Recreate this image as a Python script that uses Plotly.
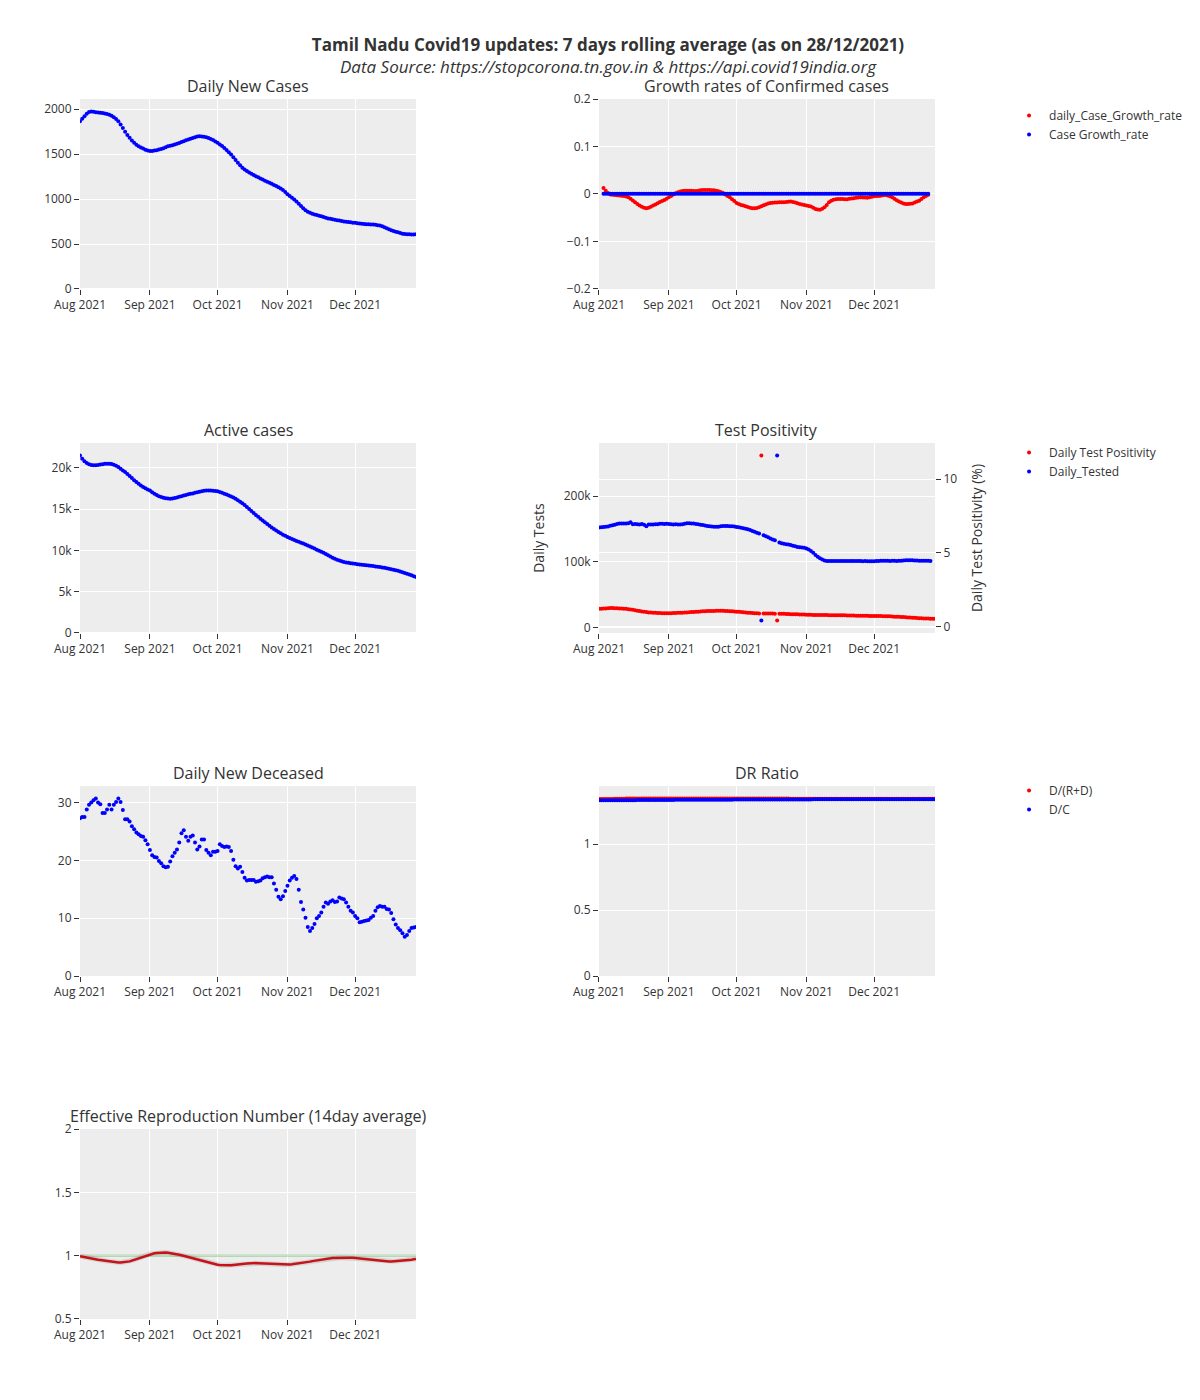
import pandas as pd
import plotly.graph_objects as go

# ---------------- data ----------------
dates = pd.date_range("2021-08-01", "2021-12-28", freq="D")
growth_dates = pd.date_range("2021-08-03", "2021-12-25", freq="D")

daily_new_cases = [
    1867, 1895, 1922, 1950, 1970, 1975, 1972, 1967, 1963, 1961, 1958, 1952, 1946, 1940, 1928, 1912,
    1892, 1866, 1830, 1790, 1750, 1714, 1682, 1652, 1627, 1606, 1588, 1574, 1562, 1550, 1541,
    1534, 1536, 1540, 1545, 1552, 1558, 1567, 1578, 1588, 1595, 1600, 1608, 1615, 1625, 1636,
    1645, 1655, 1664, 1672, 1680, 1689, 1697, 1700, 1698, 1694, 1688, 1680, 1670, 1657, 1642,
    1626, 1608, 1590, 1570, 1546, 1522, 1496, 1466, 1435, 1405, 1376, 1350, 1330, 1312, 1296,
    1282, 1268, 1255, 1242, 1230, 1218, 1205, 1193, 1181, 1170, 1158, 1146, 1133, 1118, 1100, 1078,
    1055, 1035, 1016, 996, 972, 948, 922, 897, 875, 859, 848, 838, 830, 822, 815,
    808, 800, 792, 785, 780, 775, 770, 766, 762, 757, 752, 748, 744, 741, 738,
    736, 732, 728, 725, 722, 720, 719, 718, 717, 714, 710, 705, 697, 686,
    675, 664, 654, 645, 637, 630, 622, 615, 611, 609, 608, 607, 607, 608,
]

daily_case_growth_rate = [
    0.0126, 0.007, 0.002, -0.001, -0.0015, -0.002, -0.0025, -0.003, -0.0035, -0.0045, -0.0055,
    -0.007, -0.010, -0.0135, -0.0175, -0.021, -0.0245, -0.027, -0.029, -0.030, -0.029, -0.027,
    -0.0245, -0.022, -0.0196, -0.017, -0.0148, -0.0126, -0.0098, -0.007, -0.004, -0.001, 0.0015,
    0.0035, 0.005, 0.0063, 0.0068, 0.007, 0.007, 0.0067, 0.0064, 0.0063, 0.007, 0.0078, 0.0084,
    0.0086, 0.0085, 0.0084, 0.008, 0.0076, 0.007, 0.0055, 0.004, 0.002, -0.001, -0.004, -0.007,
    -0.011, -0.015, -0.019, -0.021, -0.023, -0.0245, -0.026, -0.0275, -0.029, -0.0298, -0.030,
    -0.0293, -0.0278, -0.026, -0.024, -0.022, -0.020, -0.019, -0.0185, -0.018, -0.0178, -0.0176,
    -0.0175, -0.0175, -0.017, -0.0165, -0.016, -0.0168, -0.018, -0.0196, -0.021, -0.022, -0.023,
    -0.0245, -0.0255, -0.0266, -0.029, -0.0315, -0.0328, -0.033, -0.031, -0.028, -0.023, -0.0175,
    -0.014, -0.012, -0.011, -0.0105, -0.0105, -0.0108, -0.011, -0.011, -0.010, -0.0095, -0.009,
    -0.008, -0.0075, -0.007, -0.0072, -0.0075, -0.0077, -0.007, -0.006, -0.005, -0.0045, -0.004,
    -0.0035, -0.0028, -0.002, -0.003, -0.0048, -0.007, -0.010, -0.013, -0.016, -0.018, -0.0198,
    -0.021, -0.0212, -0.0208, -0.020, -0.018, -0.016, -0.014, -0.0105, -0.007, -0.004, -0.0014,
]

case_growth_rate = [
    0.00072, 0.00073, 0.00074, 0.00074, 0.00074, 0.00074, 0.00073, 0.00073, 0.00073, 0.00072,
    0.00072, 0.00071, 0.00071, 0.00070, 0.00069, 0.00068, 0.00066, 0.00065, 0.00064, 0.00063,
    0.00062, 0.00061, 0.00060, 0.00060, 0.00059, 0.00059, 0.00058, 0.00058, 0.00058, 0.00058,
    0.00058, 0.00058, 0.00059, 0.00059, 0.00059, 0.00060, 0.00060, 0.00060, 0.00061, 0.00061,
    0.00061, 0.00062, 0.00062, 0.00062, 0.00063, 0.00063, 0.00063, 0.00064, 0.00064, 0.00064,
    0.00064, 0.00064, 0.00063, 0.00063, 0.00062, 0.00061, 0.00061, 0.00060, 0.00059, 0.00058,
    0.00057, 0.00056, 0.00055, 0.00054, 0.00053, 0.00052, 0.00051, 0.00050, 0.00049, 0.00048,
    0.00048, 0.00047, 0.00047, 0.00046, 0.00046, 0.00045, 0.00045, 0.00044, 0.00044, 0.00043,
    0.00043, 0.00042, 0.00042, 0.00041, 0.00041, 0.00040, 0.00039, 0.00038, 0.00038, 0.00037,
    0.00036, 0.00035, 0.00034, 0.00033, 0.00032, 0.00032, 0.00031, 0.00031, 0.00030, 0.00030,
    0.00030, 0.00029, 0.00029, 0.00029, 0.00029, 0.00028, 0.00028, 0.00028, 0.00028, 0.00028,
    0.00027, 0.00027, 0.00027, 0.00027, 0.00027, 0.00027, 0.00026, 0.00026, 0.00026, 0.00026,
    0.00026, 0.00026, 0.00026, 0.00026, 0.00026, 0.00026, 0.00026, 0.00026, 0.00025, 0.00025,
    0.00025, 0.00025, 0.00024, 0.00024, 0.00024, 0.00023, 0.00023, 0.00023, 0.00023, 0.00022,
    0.00022, 0.00022, 0.00022, 0.00022, 0.00022,
]

active_cases = [
    21480, 21100, 20800, 20580, 20420, 20330, 20290, 20300, 20340, 20390, 20440, 20480, 20500,
    20490, 20450, 20380, 20240, 20080, 19880, 19680, 19480, 19250, 19000, 18750, 18500, 18280,
    18060, 17860, 17680, 17520, 17380, 17250, 17040, 16860, 16700, 16560, 16450, 16380, 16320,
    16280, 16260, 16290, 16340, 16400, 16480, 16560, 16640, 16710, 16780, 16840, 16900, 16970,
    17040, 17110, 17170, 17210, 17240, 17250, 17250, 17230, 17200, 17160, 17080, 16980, 16860,
    16750, 16640, 16520, 16390, 16240, 16080, 15900, 15710, 15480, 15240, 15000, 14760, 14520,
    14290, 14060, 13830, 13610, 13390, 13180, 12970, 12780, 12590, 12410, 12230, 12060, 11900,
    11760, 11620, 11490, 11370, 11250, 11140, 11030, 10930, 10820, 10710, 10600, 10480, 10350,
    10220, 10090, 9960, 9830, 9700, 9550, 9400, 9250, 9110, 8980, 8860, 8760, 8670, 8600, 8540,
    8490, 8450, 8410, 8370, 8330, 8300, 8270, 8240, 8210, 8170, 8140, 8100, 8060, 8020, 7980,
    7940, 7900, 7850, 7790, 7730, 7670, 7600, 7530, 7450, 7360, 7270, 7180, 7080, 6980, 6880, 6770,
]

daily_tested = [
    152300, 152600, 153000, 153300, 154000, 154900, 155800, 156700, 157600, 158400, 158600,
    158300, 158400, 158900, 160200, 157400, 157600, 157200, 156900, 157800, 156500, 154300,
    156900, 157000, 156800, 157200, 157400, 157900, 158100, 157800, 157900, 157600, 157300,
    157000, 157400, 157000, 156800, 157400, 157900, 158700, 158900, 158600, 158300, 157800,
    157400, 156700, 156000, 155400, 154800, 154200, 153800, 153500, 153300, 153600, 154200,
    154600, 154800, 154600, 154400, 154100, 153800, 153100, 152600, 152000, 151300, 150500,
    149600, 148400, 147100, 145700, 144400, 143100, 10600, 140600, 139100, 137300, 135500,
    134200, 133000, 262000, 129300, 128400, 127600, 126900, 126300, 125500, 124600, 123600,
    122800, 122300, 121900, 121300, 120300, 118800, 116400, 113700, 110500, 107600, 105300,
    103600, 102200, 101400, 101200, 101300, 101200, 101400, 101300, 101200, 101300, 101400,
    101300, 101200, 101300, 101200, 101100, 101200, 101100, 101000, 101100, 101000, 100900,
    101000, 100900, 101100, 101400, 101600, 101500, 101700, 101500, 101400, 101600, 101500,
    101300, 101500, 101700, 102000, 102300, 102500, 102400, 102300, 102000, 101900, 101800,
    101700, 101600, 101500, 101500, 101400,
]

daily_test_positivity = [
    1.19, 1.20, 1.21, 1.22, 1.23, 1.24, 1.24, 1.23, 1.23, 1.22, 1.21, 1.20, 1.19, 1.17, 1.15,
    1.13, 1.10, 1.07, 1.04, 1.01, 0.99, 0.97, 0.95, 0.94, 0.93, 0.92, 0.91, 0.91, 0.90, 0.90,
    0.90, 0.90, 0.90, 0.91, 0.91, 0.92, 0.92, 0.93, 0.94, 0.95, 0.96, 0.97, 0.98, 0.99, 1.00,
    1.01, 1.02, 1.03, 1.04, 1.04, 1.05, 1.05, 1.06, 1.06, 1.06, 1.06, 1.05, 1.04, 1.03, 1.02,
    1.01, 1.00, 0.99, 0.97, 0.96, 0.95, 0.93, 0.92, 0.91, 0.90, 0.89, 0.88, 11.60, 0.88, 0.88,
    0.87, 0.87, 0.87, 0.86, 0.40, 0.86, 0.85, 0.85, 0.84, 0.84, 0.83, 0.83, 0.82, 0.82, 0.81,
    0.81, 0.80, 0.79, 0.79, 0.79, 0.78, 0.78, 0.78, 0.77, 0.77, 0.77, 0.77, 0.76, 0.76, 0.76,
    0.76, 0.75, 0.75, 0.75, 0.75, 0.74, 0.74, 0.74, 0.74, 0.73, 0.73, 0.73, 0.72, 0.72, 0.72,
    0.71, 0.71, 0.71, 0.70, 0.70, 0.70, 0.69, 0.69, 0.68, 0.68, 0.67, 0.66, 0.66, 0.65, 0.64,
    0.63, 0.62, 0.61, 0.60, 0.59, 0.58, 0.57, 0.56, 0.55, 0.54, 0.53, 0.53, 0.52, 0.52, 0.52,
]

daily_new_deceased = [
    27.3, 27.5, 27.5, 28.8, 29.6, 30.0, 30.4, 30.7, 30.0, 29.7, 28.2, 28.2, 28.8, 29.6, 28.8,
    29.6, 30.1, 30.7, 30.1, 28.7, 27.1, 27.1, 26.7, 25.9, 25.4, 24.8, 24.5, 24.2, 24.1, 23.5,
    22.8, 21.8, 20.9, 20.6, 20.5, 19.9, 19.5, 19.0, 18.8, 18.9, 19.8, 20.7, 21.3, 21.9, 23.1,
    24.7, 25.2, 24.1, 23.4, 24.1, 24.3, 23.1, 21.9, 22.4, 23.6, 23.6, 21.8, 21.3, 20.9, 21.5,
    21.5, 21.6, 22.8, 22.5, 22.3, 22.4, 22.3, 21.6, 20.1, 19.0, 18.6, 18.9, 18.0, 17.0, 16.5,
    16.6, 16.6, 16.6, 16.3, 16.4, 16.5, 16.9, 17.1, 17.2, 17.1, 17.1, 16.0, 14.9, 13.7, 13.3,
    13.8, 14.7, 15.6, 16.5, 17.0, 17.3, 16.8, 14.9, 12.8, 11.5, 10.1, 8.5, 7.8, 8.3, 9.0,
    10.0, 10.4, 11.0, 12.0, 12.7, 12.5, 12.9, 13.1, 12.8, 12.9, 13.6, 13.4, 13.3, 12.7, 12.0,
    11.3, 11.0, 10.4, 10.0, 9.3, 9.4, 9.5, 9.6, 9.7, 10.1, 10.4, 11.3, 11.9, 12.1, 12.0,
    12.0, 11.6, 11.5, 10.9, 9.8, 8.9, 8.3, 7.9, 7.4, 6.8, 7.1, 7.8, 8.3, 8.4, 8.5,
]

d_over_r_plus_d = [
    1.343, 1.343, 1.343, 1.344, 1.344, 1.344, 1.344, 1.345, 1.345, 1.345, 1.345, 1.345, 1.346,
    1.346, 1.346, 1.346, 1.346, 1.346, 1.346, 1.346, 1.347, 1.347, 1.347, 1.347, 1.347, 1.347,
    1.347, 1.347, 1.347, 1.347, 1.347, 1.347, 1.347, 1.347, 1.347, 1.347, 1.347, 1.347, 1.347,
    1.347, 1.347, 1.347, 1.347, 1.347, 1.347, 1.347, 1.347, 1.347, 1.347, 1.347, 1.347, 1.347,
    1.347, 1.347, 1.347, 1.347, 1.347, 1.347, 1.347, 1.347, 1.347, 1.347, 1.347, 1.347, 1.347,
    1.347, 1.347, 1.347, 1.347, 1.346, 1.346, 1.346, 1.346, 1.346, 1.346, 1.346, 1.346, 1.346,
    1.346, 1.346, 1.346, 1.346, 1.346, 1.346, 1.346, 1.345, 1.345, 1.345, 1.345, 1.345, 1.345,
    1.345, 1.345, 1.345, 1.345, 1.345, 1.345, 1.345, 1.345, 1.345, 1.345, 1.345, 1.345, 1.345,
    1.345, 1.345, 1.345, 1.345, 1.345, 1.345, 1.345, 1.345, 1.345, 1.345, 1.345, 1.345, 1.345,
    1.345, 1.345, 1.345, 1.345, 1.345, 1.345, 1.345, 1.345, 1.345, 1.345, 1.345, 1.345, 1.345,
    1.345, 1.345, 1.345, 1.345, 1.345, 1.345, 1.345, 1.345, 1.345, 1.345, 1.345, 1.345, 1.345,
    1.345, 1.345, 1.345, 1.345, 1.345, 1.345, 1.345,
]

d_over_c = [
    1.333, 1.333, 1.333, 1.333, 1.333, 1.333, 1.333, 1.333, 1.334, 1.334, 1.334, 1.334, 1.334,
    1.334, 1.334, 1.334, 1.334, 1.335, 1.335, 1.335, 1.335, 1.335, 1.335, 1.335, 1.335, 1.336,
    1.336, 1.336, 1.336, 1.336, 1.336, 1.336, 1.336, 1.336, 1.337, 1.337, 1.337, 1.337, 1.337,
    1.337, 1.337, 1.337, 1.337, 1.337, 1.337, 1.337, 1.337, 1.338, 1.338, 1.338, 1.338, 1.338,
    1.338, 1.338, 1.338, 1.338, 1.338, 1.338, 1.338, 1.338, 1.339, 1.339, 1.339, 1.339, 1.339,
    1.339, 1.339, 1.339, 1.339, 1.339, 1.339, 1.339, 1.339, 1.339, 1.339, 1.339, 1.340, 1.340,
    1.340, 1.340, 1.340, 1.340, 1.340, 1.340, 1.340, 1.340, 1.340, 1.340, 1.340, 1.340, 1.340,
    1.340, 1.340, 1.340, 1.340, 1.341, 1.341, 1.341, 1.341, 1.341, 1.341, 1.341, 1.341, 1.341,
    1.341, 1.341, 1.341, 1.341, 1.341, 1.341, 1.341, 1.341, 1.341, 1.341, 1.341, 1.341, 1.342,
    1.342, 1.342, 1.342, 1.342, 1.342, 1.342, 1.342, 1.342, 1.342, 1.342, 1.342, 1.342, 1.342,
    1.342, 1.342, 1.342, 1.342, 1.342, 1.342, 1.342, 1.342, 1.342, 1.342, 1.342, 1.342, 1.342,
    1.342, 1.342, 1.342, 1.342, 1.342, 1.342, 1.342,
]

effective_r = [
    0.995, 0.991, 0.987, 0.983, 0.980, 0.976, 0.973, 0.971, 0.968, 0.966, 0.963, 0.960, 0.957,
    0.954, 0.950, 0.947, 0.946, 0.946, 0.947, 0.948, 0.950, 0.952, 0.955, 0.961, 0.967, 0.974,
    0.982, 0.988, 0.994, 1.000, 1.006, 1.013, 1.016, 1.019, 1.021, 1.023, 1.025, 1.026, 1.025,
    1.023, 1.021, 1.018, 1.015, 1.012, 1.008, 1.004, 0.999, 0.994, 0.989, 0.985, 0.981, 0.976,
    0.972, 0.968, 0.963, 0.958, 0.952, 0.947, 0.942, 0.937, 0.933, 0.929, 0.927, 0.925, 0.924,
    0.924, 0.924, 0.925, 0.926, 0.928, 0.930, 0.932, 0.934, 0.936, 0.938, 0.940, 0.941, 0.942,
    0.942, 0.941, 0.940, 0.939, 0.937, 0.936, 0.935, 0.934, 0.933, 0.932, 0.932, 0.931, 0.930,
    0.929, 0.929, 0.930, 0.932, 0.934, 0.937, 0.939, 0.942, 0.944, 0.947, 0.950, 0.953, 0.957,
    0.960, 0.963, 0.966, 0.970, 0.973, 0.976, 0.979, 0.980, 0.981, 0.982, 0.983, 0.984, 0.984,
    0.984, 0.985, 0.985, 0.984, 0.983, 0.981, 0.979, 0.976, 0.974, 0.972, 0.970, 0.968, 0.966,
    0.964, 0.962, 0.960, 0.958, 0.957, 0.956, 0.956, 0.955, 0.955, 0.956, 0.957, 0.958, 0.959,
    0.960, 0.962, 0.964, 0.966, 0.968, 0.971, 0.974,
]

threshold_dates = ["2021-08-01", "2021-12-28"]
threshold_values = [1, 1]

subplot_titles = [
    "Daily New Cases", "Growth rates of Confirmed cases",
    "Active cases", "Test Positivity",
    "Daily New Deceased", "DR Ratio",
    "Effective Reproduction Number (14day average)",
]

# ---------------- layout geometry (paper fractions) ----------------
COL_DOM = [[0.0, 0.393], [0.607, 1.0]]
ROW_DOM = [[0.8443, 1.0], [0.5623, 0.7180], [0.2811, 0.4369], [0.0, 0.1557]]
# (row, col) for each subplot, in order x1..x7
cells = [(0, 0), (0, 1), (1, 0), (1, 1), (2, 0), (2, 1), (3, 0)]

MS = 4
fig = go.Figure()

fig.add_trace(go.Scatter(x=dates, y=daily_new_cases, mode="markers", name="Daily New Cases",
                         marker=dict(color="blue", size=MS), showlegend=False,
                         xaxis="x", yaxis="y"))
fig.add_trace(go.Scatter(x=growth_dates, y=daily_case_growth_rate, mode="markers",
                         name="daily_Case_Growth_rate", marker=dict(color="red", size=MS),
                         legend="legend", xaxis="x2", yaxis="y2"))
fig.add_trace(go.Scatter(x=growth_dates, y=case_growth_rate, mode="markers",
                         name="Case Growth_rate", marker=dict(color="blue", size=MS),
                         legend="legend", xaxis="x2", yaxis="y2"))
fig.add_trace(go.Scatter(x=dates, y=active_cases, mode="markers", name="Active cases",
                         marker=dict(color="blue", size=MS), showlegend=False,
                         xaxis="x3", yaxis="y3"))
fig.add_trace(go.Scatter(x=dates, y=daily_test_positivity, mode="markers",
                         name="Daily Test Positivity", marker=dict(color="red", size=MS),
                         legend="legend2", xaxis="x4", yaxis="y5"))
fig.add_trace(go.Scatter(x=dates, y=daily_tested, mode="markers",
                         name="Daily_Tested", marker=dict(color="blue", size=MS),
                         legend="legend2", xaxis="x4", yaxis="y4"))
fig.add_trace(go.Scatter(x=dates, y=daily_new_deceased, mode="markers",
                         name="Daily New Deceased", marker=dict(color="blue", size=MS),
                         showlegend=False, xaxis="x5", yaxis="y6"))
fig.add_trace(go.Scatter(x=dates, y=d_over_r_plus_d, mode="markers", name="D/(R+D)",
                         marker=dict(color="red", size=MS), legend="legend3",
                         xaxis="x6", yaxis="y7"))
fig.add_trace(go.Scatter(x=dates, y=d_over_c, mode="markers", name="D/C",
                         marker=dict(color="blue", size=MS), legend="legend3",
                         xaxis="x6", yaxis="y7"))
fig.add_trace(go.Scatter(x=threshold_dates, y=threshold_values, mode="lines",
                         line=dict(color="rgba(60,160,60,0.3)", width=2.5), showlegend=False,
                         hoverinfo="skip", xaxis="x7", yaxis="y8"))
fig.add_trace(go.Scatter(x=dates, y=effective_r, mode="lines",
                         line=dict(color="rgba(110,110,110,0.2)", width=5), showlegend=False,
                         hoverinfo="skip", xaxis="x7", yaxis="y8"))
fig.add_trace(go.Scatter(x=dates, y=effective_r, mode="lines", name="Rt",
                         line=dict(color="rgb(200,18,26)", width=2.5), showlegend=False,
                         xaxis="x7", yaxis="y8"))

x_range = ["2021-08-01", "2021-12-28"]
# y-axis name for each subplot (primary)
y_names = ["y", "y2", "y3", "y4", "y6", "y7", "y8"]
y_extra = {
    "y": dict(rangemode="tozero"),
    "y2": dict(range=[-0.2, 0.2], dtick=0.1),
    "y3": dict(rangemode="tozero"),
    "y4": dict(title=dict(text="Daily Tests")),
    "y6": dict(rangemode="tozero"),
    "y7": dict(rangemode="tozero"),
    "y8": dict(range=[0.5, 2]),
}

layout_axes = {}
annotations = []
for i, (r, c) in enumerate(cells):
    xname = "x" if i == 0 else f"x{i + 1}"
    yname = y_names[i]
    xkey = "xaxis" if i == 0 else f"xaxis{i + 1}"
    ykey = "yaxis" if yname == "y" else f"yaxis{yname[1:]}"
    layout_axes[xkey] = dict(domain=COL_DOM[c], anchor=yname, range=x_range, automargin=False)
    layout_axes[ykey] = dict(domain=ROW_DOM[r], anchor=xname, automargin=False, **y_extra[yname])
    annotations.append(dict(text=subplot_titles[i], xref="paper", yref="paper",
                            x=sum(COL_DOM[c]) / 2, y=ROW_DOM[r][1], xanchor="center",
                            yanchor="bottom", showarrow=False, font=dict(size=16)))

layout_axes["yaxis5"] = dict(overlaying="y4", side="right", anchor="x4", automargin=False,
                             title=dict(text="Daily Test Positivity (%)"))

legend_common = dict(xref="container", yref="container", x=0.8342, xanchor="left",
                     yanchor="top", bgcolor="rgba(0,0,0,0)", font=dict(size=12))

fig.update_layout(
    template="ggplot2",
    width=1200, height=1400,
    margin=dict(l=72, r=273, t=91, b=89, autoexpand=False),
    font=dict(family="Open Sans, sans-serif"),
    title=dict(
        text="<b>Tamil Nadu Covid19 updates: 7 days rolling average (as on 28/12/2021)</b>"
             "<br><i>Data Source: https://stopcorona.tn.gov.in & https://api.covid19india.org</i>",
        x=0.5, xanchor="center", y=0.9693, yanchor="middle", font=dict(size=17),
    ),
    legend=dict(y=0.93357, **legend_common),
    legend2=dict(y=0.69286, **legend_common),
    legend3=dict(y=0.45143, **legend_common),
    annotations=annotations,
    **layout_axes,
)

fig.write_html("out.html")
